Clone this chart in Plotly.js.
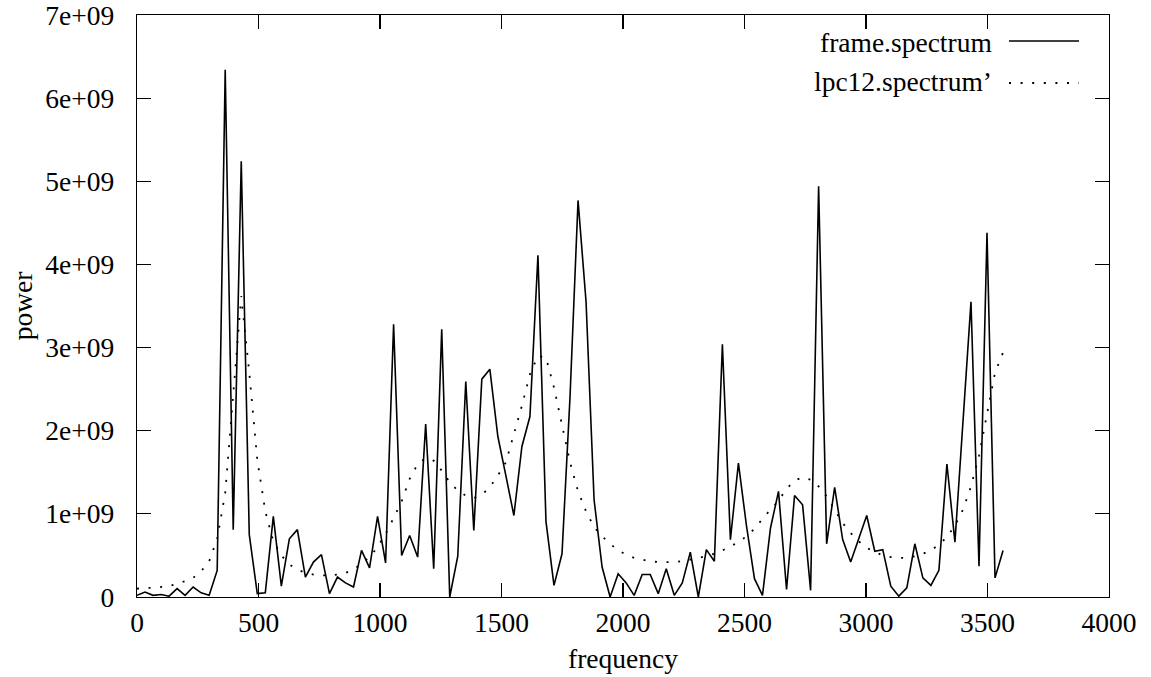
<!DOCTYPE html>
<html>
<head>
<meta charset="utf-8">
<script src="https://cdn.plot.ly/plotly-3.0.1.min.js"></script>
<style>
  html, body { margin: 0; padding: 0; background: #fff; }
  #chart { width: 1151px; height: 677px; }
</style>
</head>
<body>
<div id="chart"></div>
<script>
// ---- data (power in units of 1e9) ----
const frequency = [0,33,66,99,132,165,198,231,264,297,330,363,396,429,462,495,528,561,594,627,660,693,726,759,792,825,858,891,924,957,990,1023,1056,1089,1122,1155,1188,1221,1254,1287,1320,1353,1386,1419,1452,1485,1518,1551,1584,1617,1650,1683,1716,1749,1782,1815,1848,1881,1914,1947,1980,2013,2046,2079,2112,2145,2178,2211,2244,2277,2310,2343,2376,2409,2442,2475,2508,2541,2574,2607,2640,2673,2706,2739,2772,2805,2838,2871,2904,2937,2970,3003,3036,3069,3102,3135,3168,3201,3234,3267,3300,3333,3366,3399,3432,3465,3498,3531,3564];

const framePowerE9 = [0.02,0.06,0.02,0.03,0.01,0.10,0.02,0.12,0.05,0.02,
  0.32,6.34,0.81,5.24,0.75,0.04,0.05,0.97,0.13,0.70,
  0.81,0.24,0.42,0.51,0.04,0.24,0.17,0.12,0.56,0.35,
  0.97,0.41,3.28,0.50,0.74,0.48,2.08,0.34,3.22,0.00,
  0.49,2.59,0.80,2.62,2.74,1.93,1.46,0.98,1.81,2.17,
  4.11,0.91,0.14,0.52,2.41,4.77,3.55,1.17,0.36,0.00,
  0.28,0.17,0.02,0.27,0.27,0.04,0.34,0.02,0.17,0.54,
  0.00,0.57,0.43,3.04,0.69,1.61,0.86,0.22,0.02,0.83,
  1.27,0.09,1.22,1.11,0.08,4.94,0.64,1.32,0.69,0.42,
  0.70,0.98,0.55,0.57,0.13,0.01,0.11,0.64,0.23,0.14,
  0.32,1.60,0.66,2.10,3.55,0.37,4.38,0.23,0.56];

const lpcPowerE9 = [0.10,0.11,0.11,0.12,0.13,0.16,0.19,0.23,0.31,0.43,
  0.70,1.25,2.40,3.62,2.70,1.65,1.03,0.67,0.50,0.39,
  0.33,0.29,0.27,0.26,0.26,0.27,0.29,0.33,0.40,0.48,
  0.60,0.76,0.95,1.15,1.42,1.60,1.67,1.64,1.52,1.38,
  1.28,1.22,1.19,1.23,1.32,1.46,1.62,1.95,2.30,2.68,
  2.90,2.88,2.52,2.07,1.62,1.27,1.03,0.84,0.73,0.64,
  0.56,0.51,0.47,0.45,0.43,0.42,0.42,0.42,0.43,0.45,
  0.47,0.49,0.52,0.56,0.61,0.66,0.73,0.82,0.94,1.05,
  1.16,1.30,1.40,1.44,1.41,1.33,1.21,1.05,0.89,0.77,
  0.67,0.59,0.54,0.50,0.48,0.47,0.47,0.49,0.52,0.56,
  0.63,0.72,0.86,1.05,1.33,1.70,2.20,2.70,2.94];

const seriesNames = ["frame.spectrum", "lpc12.spectrum\u2019"];
const xTickVals = [0,500,1000,1500,2000,2500,3000,3500,4000];
const xTickText = ["0","500","1000","1500","2000","2500","3000","3500","4000"];
const yTickVals = [0,1e9,2e9,3e9,4e9,5e9,6e9,7e9];
const yTickText = ["0","1e+09","2e+09","3e+09","4e+09","5e+09","6e+09","7e+09"];
const xTitle = "frequency";
const yTitle = "power";

// ---- chart ----
const FONT = "Liberation Serif, Times New Roman, serif";
const FS = 27.5;

const traces = [
  { x: frequency, y: framePowerE9.map(v => v * 1e9), mode: "lines", name: seriesNames[0],
    line: { color: "#000", width: 1.6 }, showlegend: false, hoverinfo: "skip" },
  { x: frequency, y: lpcPowerE9.map(v => v * 1e9), mode: "lines", name: seriesNames[1],
    line: { color: "#000", width: 1.8, dash: "2px,9.6px" }, showlegend: false, hoverinfo: "skip" }
];

const axisCommon = {
  showline: true, linecolor: "#000", linewidth: 1.2, mirror: "ticks",
  ticks: "inside", ticklen: 14, tickwidth: 1.2, tickcolor: "#000",
  showgrid: false, zeroline: false,
  tickfont: { family: FONT, size: FS, color: "#000" },
  ticklabeloverflow: "allow",
  tickmode: "array", fixedrange: true
};

// key placed as text + sample lines (gnuplot style: key text left of sample)
const legTextX = (994 - 137) / 972;
const legLineX0 = (1009 - 137) / 972, legLineX1 = (1079 - 137) / 972;
const legY1 = (597 - 41) / 582, legY2 = (597 - 83) / 582;

const layout = {
  width: 1151, height: 677,
  margin: { l: 137, r: 42, t: 15, b: 80, pad: 0 },
  paper_bgcolor: "#fff", plot_bgcolor: "#fff",
  font: { family: FONT, size: FS, color: "#000" },
  showlegend: false,
  xaxis: Object.assign({}, axisCommon, {
    range: [0, 4000], tickvals: xTickVals, ticktext: xTickText,
    ticklabelstandoff: 1,
    title: { text: xTitle, font: { family: FONT, size: FS, color: "#000" }, standoff: 11 }
  }),
  yaxis: Object.assign({}, axisCommon, {
    range: [0, 7e9], tickvals: yTickVals, ticktext: yTickText,
    ticklabelstandoff: 16,
    title: { text: yTitle, font: { family: FONT, size: FS, color: "#000" }, standoff: 4 }
  }),
  annotations: [
    { xref: "paper", yref: "paper", x: legTextX, y: legY1 - 0.002, xanchor: "right", yanchor: "middle",
      text: seriesNames[0], showarrow: false, font: { family: FONT, size: FS, color: "#000" } },
    { xref: "paper", yref: "paper", x: legTextX, y: legY2 + 0.002, xanchor: "right", yanchor: "middle",
      text: seriesNames[1], showarrow: false, font: { family: FONT, size: FS, color: "#000" } }
  ],
  shapes: [
    { type: "line", xref: "paper", yref: "paper", x0: legLineX0, x1: legLineX1, y0: legY1, y1: legY1,
      line: { color: "#000", width: 1.6 } },
    { type: "line", xref: "paper", yref: "paper", x0: legLineX0, x1: legLineX1, y0: legY2, y1: legY2,
      line: { color: "#000", width: 1.8, dash: "2px,9.6px" } }
  ]
};

Plotly.newPlot("chart", traces, layout, { displayModeBar: false, staticPlot: true });
</script>
</body>
</html>
